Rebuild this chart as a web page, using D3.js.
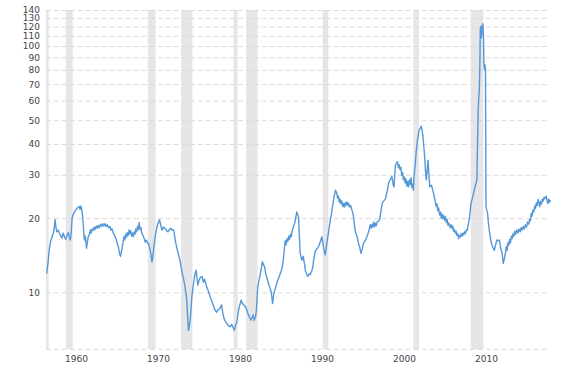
<!DOCTYPE html>
<html>
<head>
<meta charset="utf-8">
<script src="https://cdn.jsdelivr.net/npm/d3@7"></script>
<style>
  body { margin: 0; background: #fff; }
  text { font-family: "DejaVu Sans", Verdana, sans-serif; font-size: 9px; fill: #444; }
</style>
</head>
<body>
<div id="svg-container"></div>
<script>
const width = 584;
const height = 368;

// y axis ticks (log scale)
const yTicks = [10, 20, 30, 40, 50, 60, 70, 80, 90, 100, 110, 120, 130, 140];
const xTickYears = [1960, 1970, 1980, 1990, 2000, 2010];

// recession periods, decimal years
const recessions = [
  [1957.58, 1958.25], [1960.25, 1961.08], [1969.92, 1970.83], [1973.83, 1975.17],
  [1980.0, 1980.5], [1981.5, 1982.83], [1990.5, 1991.17], [2001.17, 2001.83],
  [2007.92, 2009.42]
];

// [decimal year, value]
const peSeries = [
  [1958.0, 11.9], [1958.15, 13.0], [1958.3, 14.8], [1958.5, 16.3], [1958.65, 16.8], [1958.8, 17.4],
  [1958.9, 18.3], [1959.0, 19.7], [1959.1, 18.4], [1959.2, 17.6], [1959.35, 17.9], [1959.5, 17.4],
  [1959.65, 17.0], [1959.8, 16.6], [1959.95, 17.4], [1960.1, 16.8], [1960.25, 16.4], [1960.4, 17.0],
  [1960.55, 17.5], [1960.7, 16.6], [1960.8, 16.3], [1960.9, 17.5], [1961.0, 20.0], [1961.15, 20.8],
  [1961.3, 21.2], [1961.45, 21.6], [1961.55, 21.9], [1961.7, 22.1], [1961.85, 22.3], [1961.95, 21.7],
  [1962.05, 22.4], [1962.15, 21.5], [1962.25, 20.3], [1962.35, 18.0], [1962.45, 16.3], [1962.55, 16.9],
  [1962.7, 15.1], [1962.8, 16.0], [1962.9, 16.8], [1963.05, 17.2], [1963.15, 17.9], [1963.25, 17.4],
  [1963.35, 18.1], [1963.5, 17.8], [1963.6, 18.4], [1963.7, 18.0], [1963.85, 18.6], [1963.95, 18.2],
  [1964.1, 18.7], [1964.2, 18.3], [1964.35, 18.9], [1964.5, 18.5], [1964.6, 19.0], [1964.75, 18.6],
  [1964.9, 19.0], [1965.0, 18.5], [1965.15, 18.8], [1965.3, 18.3], [1965.45, 18.5], [1965.55, 17.9],
  [1965.7, 18.1], [1965.85, 17.4], [1966.05, 16.9], [1966.2, 16.4], [1966.35, 15.6], [1966.45, 15.3],
  [1966.6, 14.3], [1966.7, 14.0], [1966.8, 14.6], [1966.9, 15.2], [1967.0, 16.0], [1967.1, 16.8],
  [1967.2, 16.3], [1967.3, 17.2], [1967.4, 16.7], [1967.5, 17.5], [1967.6, 17.0], [1967.7, 17.9],
  [1967.8, 17.3], [1967.9, 17.8], [1968.0, 16.9], [1968.1, 17.4], [1968.2, 16.8], [1968.3, 17.6],
  [1968.4, 17.2], [1968.5, 18.1], [1968.6, 17.6], [1968.7, 18.5], [1968.8, 18.0], [1968.9, 19.2],
  [1969.0, 18.0], [1969.1, 18.3], [1969.2, 17.4], [1969.35, 17.0], [1969.5, 16.5], [1969.6, 16.0],
  [1969.75, 16.3], [1969.9, 15.8], [1970.0, 15.8], [1970.15, 15.0], [1970.3, 14.2], [1970.4, 13.3],
  [1970.5, 14.0], [1970.65, 15.6], [1970.8, 16.9], [1970.95, 18.2], [1971.1, 19.0], [1971.3, 19.7],
  [1971.45, 18.6], [1971.6, 17.9], [1971.75, 18.4], [1971.9, 18.2], [1972.05, 18.0], [1972.2, 17.7],
  [1972.3, 17.6], [1972.45, 18.0], [1972.6, 18.2], [1972.75, 17.9], [1972.9, 18.0], [1973.0, 17.6],
  [1973.1, 16.6], [1973.25, 15.6], [1973.4, 14.8], [1973.55, 14.1], [1973.7, 13.5], [1973.85, 12.6],
  [1974.0, 11.8], [1974.15, 11.2], [1974.3, 10.5], [1974.45, 9.6], [1974.5, 9.3], [1974.6, 8.0],
  [1974.7, 7.0], [1974.8, 7.3], [1974.9, 7.7], [1975.0, 8.6], [1975.1, 9.6], [1975.25, 10.6],
  [1975.35, 11.2], [1975.45, 11.8], [1975.6, 12.3], [1975.7, 11.4], [1975.8, 10.7], [1975.95, 11.2],
  [1976.1, 11.5], [1976.3, 11.6], [1976.45, 11.0], [1976.6, 11.3], [1976.85, 10.5], [1977.05, 10.1],
  [1977.25, 9.6], [1977.45, 9.2], [1977.6, 8.9], [1977.8, 8.5], [1978.0, 8.3], [1978.2, 8.5],
  [1978.4, 8.6], [1978.6, 8.9], [1978.75, 8.2], [1978.9, 7.8], [1979.05, 7.6], [1979.2, 7.5],
  [1979.4, 7.3], [1979.6, 7.25], [1979.8, 7.4], [1979.95, 7.2], [1980.1, 7.0], [1980.2, 7.3],
  [1980.35, 7.5], [1980.5, 8.0], [1980.6, 8.5], [1980.75, 8.9], [1980.9, 9.3], [1981.05, 9.0],
  [1981.2, 8.9], [1981.45, 8.7], [1981.6, 8.4], [1981.75, 8.1], [1981.9, 7.9], [1982.05, 7.7],
  [1982.2, 7.9], [1982.3, 8.1], [1982.45, 7.7], [1982.6, 8.0], [1982.7, 8.5], [1982.85, 10.5],
  [1983.0, 11.2], [1983.1, 11.6], [1983.25, 12.4], [1983.4, 13.3], [1983.55, 12.9], [1983.65, 12.7],
  [1983.8, 11.9], [1983.95, 11.4], [1984.1, 10.9], [1984.3, 10.4], [1984.45, 10.0], [1984.6, 9.0],
  [1984.75, 9.9], [1984.9, 10.3], [1985.1, 10.9], [1985.3, 11.4], [1985.5, 11.9], [1985.65, 12.3],
  [1985.75, 12.7], [1985.9, 14.0], [1986.0, 15.2], [1986.1, 16.2], [1986.2, 15.6], [1986.3, 16.5],
  [1986.4, 16.1], [1986.5, 16.9], [1986.6, 16.4], [1986.7, 17.2], [1986.8, 16.8], [1986.9, 17.7],
  [1987.0, 18.2], [1987.2, 19.1], [1987.35, 20.3], [1987.45, 21.2], [1987.55, 20.7], [1987.65, 20.3],
  [1987.75, 17.0], [1987.85, 14.4], [1988.05, 13.5], [1988.2, 14.0], [1988.3, 13.4], [1988.45, 12.3],
  [1988.6, 11.9], [1988.75, 11.6], [1988.9, 11.9], [1989.05, 11.8], [1989.2, 12.2], [1989.3, 12.5],
  [1989.45, 13.6], [1989.6, 14.6], [1989.8, 15.0], [1990.0, 15.3], [1990.2, 16.0], [1990.4, 16.8],
  [1990.55, 15.6], [1990.7, 14.6], [1990.8, 14.2], [1990.95, 15.5], [1991.1, 16.8], [1991.25, 18.2],
  [1991.4, 19.7], [1991.55, 21.0], [1991.65, 22.3], [1991.8, 24.0], [1992.0, 26.0], [1992.15, 25.3],
  [1992.25, 24.1], [1992.35, 24.6], [1992.45, 23.2], [1992.55, 23.9], [1992.65, 22.9], [1992.75, 23.5],
  [1992.85, 22.3], [1992.95, 22.9], [1993.05, 22.2], [1993.15, 23.1], [1993.25, 22.5], [1993.35, 23.3],
  [1993.45, 22.6], [1993.55, 23.0], [1993.65, 22.2], [1993.8, 22.5], [1993.9, 21.8], [1994.05, 21.0],
  [1994.2, 19.3], [1994.3, 17.9], [1994.45, 17.2], [1994.6, 16.6], [1994.75, 15.6], [1994.85, 15.3],
  [1995.0, 14.4], [1995.15, 15.0], [1995.3, 15.8], [1995.5, 16.2], [1995.7, 16.8], [1995.9, 17.6],
  [1996.1, 18.8], [1996.2, 18.2], [1996.3, 18.9], [1996.4, 18.4], [1996.5, 19.3], [1996.6, 18.5],
  [1996.7, 19.1], [1996.8, 18.6], [1996.9, 19.3], [1997.05, 19.4], [1997.2, 19.7], [1997.35, 21.3],
  [1997.5, 23.0], [1997.7, 23.5], [1997.9, 24.0], [1998.1, 25.8], [1998.25, 27.7], [1998.45, 28.7],
  [1998.65, 29.5], [1998.8, 27.2], [1998.9, 26.8], [1999.05, 32.8], [1999.2, 33.5], [1999.3, 33.9],
  [1999.4, 32.0], [1999.5, 33.0], [1999.6, 31.5], [1999.7, 32.2], [1999.8, 29.8], [1999.9, 30.6],
  [2000.0, 28.6], [2000.1, 29.4], [2000.2, 27.8], [2000.3, 28.9], [2000.4, 27.0], [2000.5, 28.2],
  [2000.6, 26.8], [2000.7, 28.6], [2000.8, 27.4], [2000.9, 29.2], [2001.0, 26.6], [2001.1, 27.5],
  [2001.17, 26.0], [2001.25, 29.5], [2001.4, 33.4], [2001.5, 37.0], [2001.6, 40.3], [2001.75, 43.5],
  [2001.85, 45.6], [2002.0, 46.5], [2002.1, 47.3], [2002.2, 45.5], [2002.3, 42.8], [2002.4, 39.0],
  [2002.5, 35.5], [2002.6, 31.0], [2002.7, 28.6], [2002.8, 31.5], [2002.9, 34.4], [2003.0, 30.0],
  [2003.1, 26.8], [2003.3, 27.2], [2003.45, 26.0], [2003.55, 25.2], [2003.7, 23.8], [2003.85, 22.3],
  [2003.95, 22.9], [2004.05, 21.4], [2004.15, 22.0], [2004.25, 20.6], [2004.35, 21.2], [2004.45, 20.0],
  [2004.55, 20.8], [2004.65, 19.9], [2004.75, 20.5], [2004.85, 19.6], [2004.95, 20.3], [2005.05, 19.2],
  [2005.15, 19.7], [2005.25, 18.7], [2005.35, 19.1], [2005.5, 18.3], [2005.6, 18.8], [2005.7, 18.2],
  [2005.8, 18.6], [2005.9, 17.7], [2006.0, 18.0], [2006.1, 17.4], [2006.2, 17.7], [2006.3, 17.0],
  [2006.4, 17.3], [2006.5, 16.5], [2006.6, 17.0], [2006.7, 16.8], [2006.8, 17.3], [2006.9, 16.9],
  [2007.0, 17.4], [2007.1, 17.1], [2007.2, 17.6], [2007.3, 17.3], [2007.4, 17.9], [2007.5, 17.8],
  [2007.6, 18.6], [2007.7, 19.4], [2007.85, 21.0], [2007.95, 23.0], [2008.1, 24.0], [2008.25, 25.2],
  [2008.45, 27.0], [2008.55, 27.7], [2008.65, 28.6], [2008.72, 40.0], [2008.8, 55.0], [2008.87, 62.0],
  [2008.93, 66.0], [2009.0, 85.0], [2009.05, 118], [2009.1, 120], [2009.17, 108], [2009.24, 118],
  [2009.3, 122], [2009.35, 123], [2009.42, 110], [2009.48, 84.0], [2009.55, 80.0], [2009.6, 84.0],
  [2009.66, 78.0], [2009.72, 22.3], [2009.8, 21.6], [2009.9, 21.0], [2010.0, 19.2], [2010.1, 17.9],
  [2010.25, 16.5], [2010.4, 15.6], [2010.55, 15.2], [2010.7, 14.8], [2010.85, 15.6], [2011.0, 16.3],
  [2011.15, 16.2], [2011.3, 16.3], [2011.45, 15.1], [2011.6, 14.5], [2011.75, 13.1], [2011.9, 13.8],
  [2012.0, 14.4], [2012.1, 15.3], [2012.2, 14.8], [2012.3, 15.9], [2012.4, 15.5], [2012.5, 16.4],
  [2012.6, 15.9], [2012.7, 16.9], [2012.8, 16.5], [2012.9, 17.3], [2013.0, 16.9], [2013.1, 17.7],
  [2013.2, 17.2], [2013.35, 17.9], [2013.5, 17.4], [2013.6, 18.1], [2013.75, 17.6], [2013.85, 18.3],
  [2014.0, 17.9], [2014.1, 18.5], [2014.25, 18.1], [2014.35, 18.8], [2014.5, 18.4], [2014.6, 19.3],
  [2014.75, 18.9], [2014.85, 19.8], [2014.95, 19.5], [2015.05, 20.9], [2015.15, 20.4], [2015.25, 21.6],
  [2015.35, 21.2], [2015.45, 22.4], [2015.55, 21.9], [2015.65, 23.1], [2015.75, 22.5], [2015.85, 23.8],
  [2015.95, 23.2], [2016.05, 22.3], [2016.15, 23.4], [2016.25, 22.8], [2016.35, 23.9], [2016.45, 23.5],
  [2016.55, 24.3], [2016.65, 24.0], [2016.8, 24.6], [2016.9, 23.6], [2017.0, 22.9], [2017.1, 23.9],
  [2017.2, 23.2], [2017.3, 23.7]
];

const plotLeft = 46;
const plotRight = 551;
const plotTop = 10;
const plotBottom = 349.3;

const svg = d3
  .select("#svg-container")
  .append("svg")
  .attr("width", width)
  .attr("height", height);

const xScale = d3.scaleLinear().domain([1957.93, 2017.37]).range([plotLeft, plotRight]);
// year labels sit on their own spacing in the original
const xLabelScale = d3.scaleLinear().domain([1960, 2010]).range([76, 486]);
const yScale = d3.scaleLog().domain([5.87, 140]).range([plotBottom, plotTop]);

// recession bands
svg
  .append("g")
  .selectAll("rect")
  .data(recessions)
  .enter()
  .append("rect")
  .attr("x", (d) => xScale(Math.max(d[0], 1957.93)))
  .attr("width", (d) => xScale(d[1]) - xScale(Math.max(d[0], 1957.93)))
  .attr("y", plotTop)
  .attr("height", plotBottom - plotTop)
  .attr("fill", "#e6e6e6");

// horizontal grid + y labels
const yAxis = d3
  .axisLeft(yScale)
  .tickValues(yTicks)
  .tickFormat(d3.format("d"))
  .tickSize(-(plotRight - 1 - plotLeft))
  .tickPadding(6);

svg
  .append("g")
  .attr("transform", `translate(${plotLeft}, 0)`)
  .call(yAxis)
  .call((g) => g.select(".domain").remove())
  .call((g) =>
    g
      .selectAll(".tick line")
      .attr("stroke", "#dcdcdc")
      .attr("stroke-dasharray", "5,3")
  )
  .call((g) =>
    g
      .selectAll(".tick text")
      .attr("x", -6)
      .style("font-family", "'DejaVu Sans', sans-serif")
      .style("font-size", "9px")
      .attr("fill", "#444")
  );

// bottom baseline
svg
  .append("line")
  .attr("x1", plotLeft)
  .attr("x2", plotRight - 1)
  .attr("y1", plotBottom)
  .attr("y2", plotBottom)
  .attr("stroke", "#dcdcdc")
  .attr("stroke-dasharray", "5,3");

// x labels
const xAxis = d3
  .axisBottom(xLabelScale)
  .tickValues(xTickYears)
  .tickFormat(d3.format("d"))
  .tickSize(0)
  .tickPadding(6);

svg
  .append("g")
  .attr("transform", `translate(0, ${plotBottom})`)
  .call(xAxis)
  .call((g) => g.select(".domain").remove())
  .call((g) =>
    g
      .selectAll(".tick text")
      .style("font-family", "'DejaVu Sans', sans-serif")
      .style("font-size", "9px")
      .attr("fill", "#444")
  );

// the series
const line = d3
  .line()
  .x((d) => xScale(d[0]))
  .y((d) => yScale(d[1]));

svg
  .append("path")
  .datum(peSeries)
  .attr("d", line)
  .attr("fill", "none")
  .attr("stroke", "#5598d8")
  .attr("stroke-width", 1.4)
  .attr("stroke-linejoin", "round");
</script>
</body>
</html>
